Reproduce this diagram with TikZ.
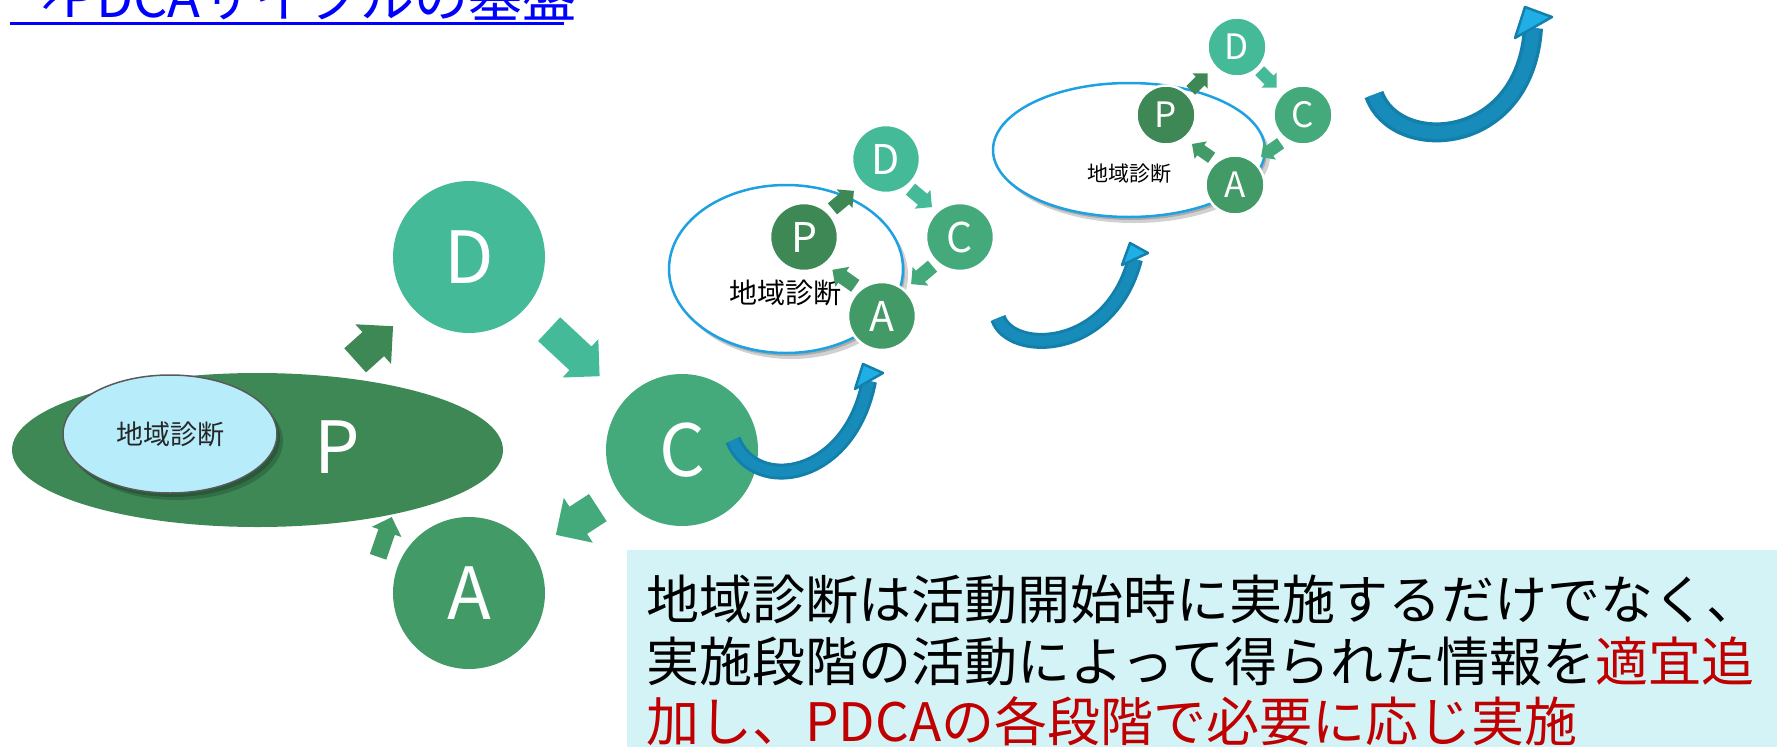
\documentclass[tikz,border=0pt]{standalone}
\usepackage{fontspec}
\setmainfont{Noto Sans CJK JP}
\usetikzlibrary{shapes.arrows,shapes.geometric}
\definecolor{cP}{HTML}{3E8856}
\definecolor{cD}{HTML}{45BA98}
\definecolor{cC}{HTML}{44AA7C}
\definecolor{cA}{HTML}{429A67}
\definecolor{ebl}{HTML}{1DA1E0}
\definecolor{lbl}{HTML}{B7ECFA}
\definecolor{bdark}{HTML}{1380AB}
\definecolor{bmid}{HTML}{178CBA}
\definecolor{blight}{HTML}{20AEE6}
\definecolor{boxc}{HTML}{D4F3F6}
\definecolor{redt}{HTML}{C00000}
\definecolor{titleblue}{HTML}{0000FF}
\tikzset{
  bigc/.style={circle, minimum size=152pt, inner sep=0pt, text=white, font=\fontsize{72}{72}\selectfont},
  cyc1/.style={circle, minimum size=68pt, inner sep=0pt, text=white, draw=white, line width=2.5pt, font=\fontsize{41}{41}\selectfont},
  cyc2/.style={circle, minimum size=59pt, inner sep=0pt, text=white, draw=white, line width=2.5pt, font=\fontsize{35}{35}\selectfont},
  % #1 length, #2 head width, #3 half shaft width, #4 head extend
  blk/.style n args={4}{single arrow, inner xsep=0pt, inner ysep=#3, draw=none, minimum height=#1, minimum width=#2,
     single arrow head extend=#4, single arrow tip angle=90, single arrow head indent=0pt, anchor=tail},
  cycell/.style={ellipse, fill=white, draw=ebl, line width=2.5pt, inner sep=0pt},
  shad/.style={fill=black, opacity=0.18},
  bshaft/.style={bdark, line cap=butt},
  bcore/.style={bmid, line cap=butt},
  bhead/.style={fill=blight, draw=bdark, line width=2.5pt, line join=round},
  boxline/.style={anchor=base west, inner sep=0pt, font=\fontsize{53}{53}\selectfont},
}
\begin{document}
\begin{tikzpicture}[x=1pt, y=-1pt]
\useasboundingbox (0,0) rectangle (1777,747);

% title (cut at the top)
\node[anchor=base west, inner sep=0pt, text=titleblue, font=\fontsize{54}{54}\selectfont] (title) at (8,17) {→PDCAサイクルの基盤};
\draw[titleblue, line width=3pt] (10,23.5) -- (564,23.5);

% ---- big cycle ----
\node[ellipse, fill=cP, minimum width=491pt, minimum height=154pt, inner sep=0pt] (Pe) at (257.5,450) {};
\fill[shad] (176,441) ellipse [x radius=107, y radius=59];
\fill[shad] (173,438) ellipse [x radius=107, y radius=59];
\node[ellipse, fill=lbl, draw=black!65, line width=1.5pt, minimum width=214pt, minimum height=118pt, inner sep=0pt,
      text=black!85, font=\fontsize{27}{27}\selectfont] (diag0) at (170,434) {地域診断};
\node[text=white, font=\fontsize{72}{72}\selectfont, inner sep=0pt] (Pl) at (337,447) {P};
\node[bigc, fill=cD] (D) at (469,257) {D};
\node[bigc, fill=cC] (C) at (682,450) {C};
\node[bigc, fill=cA] (A) at (469,593) {A};

\node[blk={51pt}{53pt}{16pt}{10.5pt}, fill=cP, rotate=42] (aPD) at (355,360.5) {};
\node[blk={69pt}{52pt}{16pt}{10pt}, fill=cD, rotate=-43] (aDC) at (549,329) {};
\node[blk={50pt}{53pt}{16pt}{10.5pt}, fill=cC, rotate=213] (aCA) at (598,507.5) {};
\node[blk={42pt}{31pt}{8.5pt}{7pt}, fill=cA, rotate=71] (aAP) at (378,557) {};

% ---- cycle 1 ----
\fill[shad] (791,275) ellipse [x radius=117, y radius=84];
\fill[shad] (788,272) ellipse [x radius=117, y radius=84];
\node[cycell, minimum width=234pt, minimum height=168pt] (e1) at (786,269) {};
\node[font=\fontsize{28}{28}\selectfont, inner sep=0pt] (t1) at (785,293) {地域診断};
\node[cyc1, fill=cP] (P1) at (804,237) {P};
\node[cyc1, fill=cD] (D1) at (886,159) {D};
\node[cyc1, fill=cC] (C1) at (960,237) {C};
\node[cyc1, fill=cA] (A1) at (882,316) {A};
\node[blk={28pt}{24pt}{7pt}{5pt}, fill=cP, rotate=40] (aPD1) at (832.3,209) {};
\node[blk={28pt}{24pt}{7pt}{5pt}, fill=cD, rotate=-40] (aDC1) at (910.3,189) {};
\node[blk={28pt}{24pt}{7pt}{5pt}, fill=cC, rotate=220] (aCA1) at (932.7,266) {};
\node[blk={28pt}{24pt}{7pt}{5pt}, fill=cA, rotate=145] (aAP1) at (855.5,286) {};

% ---- cycle 2 ----
\fill[shad] (1134,156) ellipse [x radius=136, y radius=67];
\fill[shad] (1131,153) ellipse [x radius=136, y radius=67];
\node[cycell, minimum width=272pt, minimum height=134pt] (e2) at (1129,150) {};
\node[font=\fontsize{21}{21}\selectfont, inner sep=0pt] (t2) at (1129,174) {地域診断};
\node[cyc2, fill=cP] (P2) at (1166,115) {P};
\node[cyc2, fill=cD] (D2) at (1237,47) {D};
\node[cyc2, fill=cC] (C2) at (1303,115) {C};
\node[cyc2, fill=cA] (A2) at (1235,185) {A};
\node[blk={24pt}{21pt}{6pt}{4.5pt}, fill=cP, rotate=45] (aPD2) at (1190.5,90.5) {};
\node[blk={24pt}{21pt}{6pt}{4.5pt}, fill=cD, rotate=-45] (aDC2) at (1259.5,70.5) {};
\node[blk={24pt}{21pt}{6pt}{4.5pt}, fill=cC, rotate=215] (aCA2) at (1280.8,143.1) {};
\node[blk={24pt}{21pt}{6pt}{4.5pt}, fill=cA, rotate=145] (aAP2) at (1211.8,157.9) {};

% ---- curved blue arrows ----
\coordinate (b1t) at (733,440);
\coordinate (b1h) at (869,381);
\draw[bshaft, line width=16pt] (b1t) .. controls (755,495) and (850,480) .. (b1h);
\draw[bcore, line width=10pt] (b1t) .. controls (755,495) and (850,480) .. (b1h);
\filldraw[bhead] (855,389) -- (863,364) -- (883,373) -- cycle;

\coordinate (b2t) at (998,318);
\coordinate (b2h) at (1135,259);
\draw[bshaft, line width=16pt] (b2t) .. controls (1010,355) and (1110,355) .. (b2h);
\draw[bcore, line width=10pt] (b2t) .. controls (1010,355) and (1110,355) .. (b2h);
\filldraw[bhead] (1122,265) -- (1130,243) -- (1148,253) -- cycle;

\coordinate (b3t) at (1374,94.5);
\coordinate (b3h) at (1533,28);
\draw[bshaft, line width=20pt] (b3t) .. controls (1395,155) and (1525,150) .. (b3h);
\draw[bcore, line width=13pt] (b3t) .. controls (1395,155) and (1525,150) .. (b3h);
\filldraw[bhead] (1515,38) -- (1525,7) -- (1552,17) -- cycle;

% ---- text box ----
\fill[boxc] (627,550) rectangle (1777,747);
\node[boxline] (l1) at (646,619) {地域診断は活動開始時に実施するだけでなく、};
\node[boxline] (l2) at (646,681) {実施段階の活動によって得られた情報を\textcolor{redt}{適宜追}};
\node[boxline, text=redt] (l3) at (646,741) {加し、PDCAの各段階で必要に応じ実施};
\end{tikzpicture}
\end{document}
